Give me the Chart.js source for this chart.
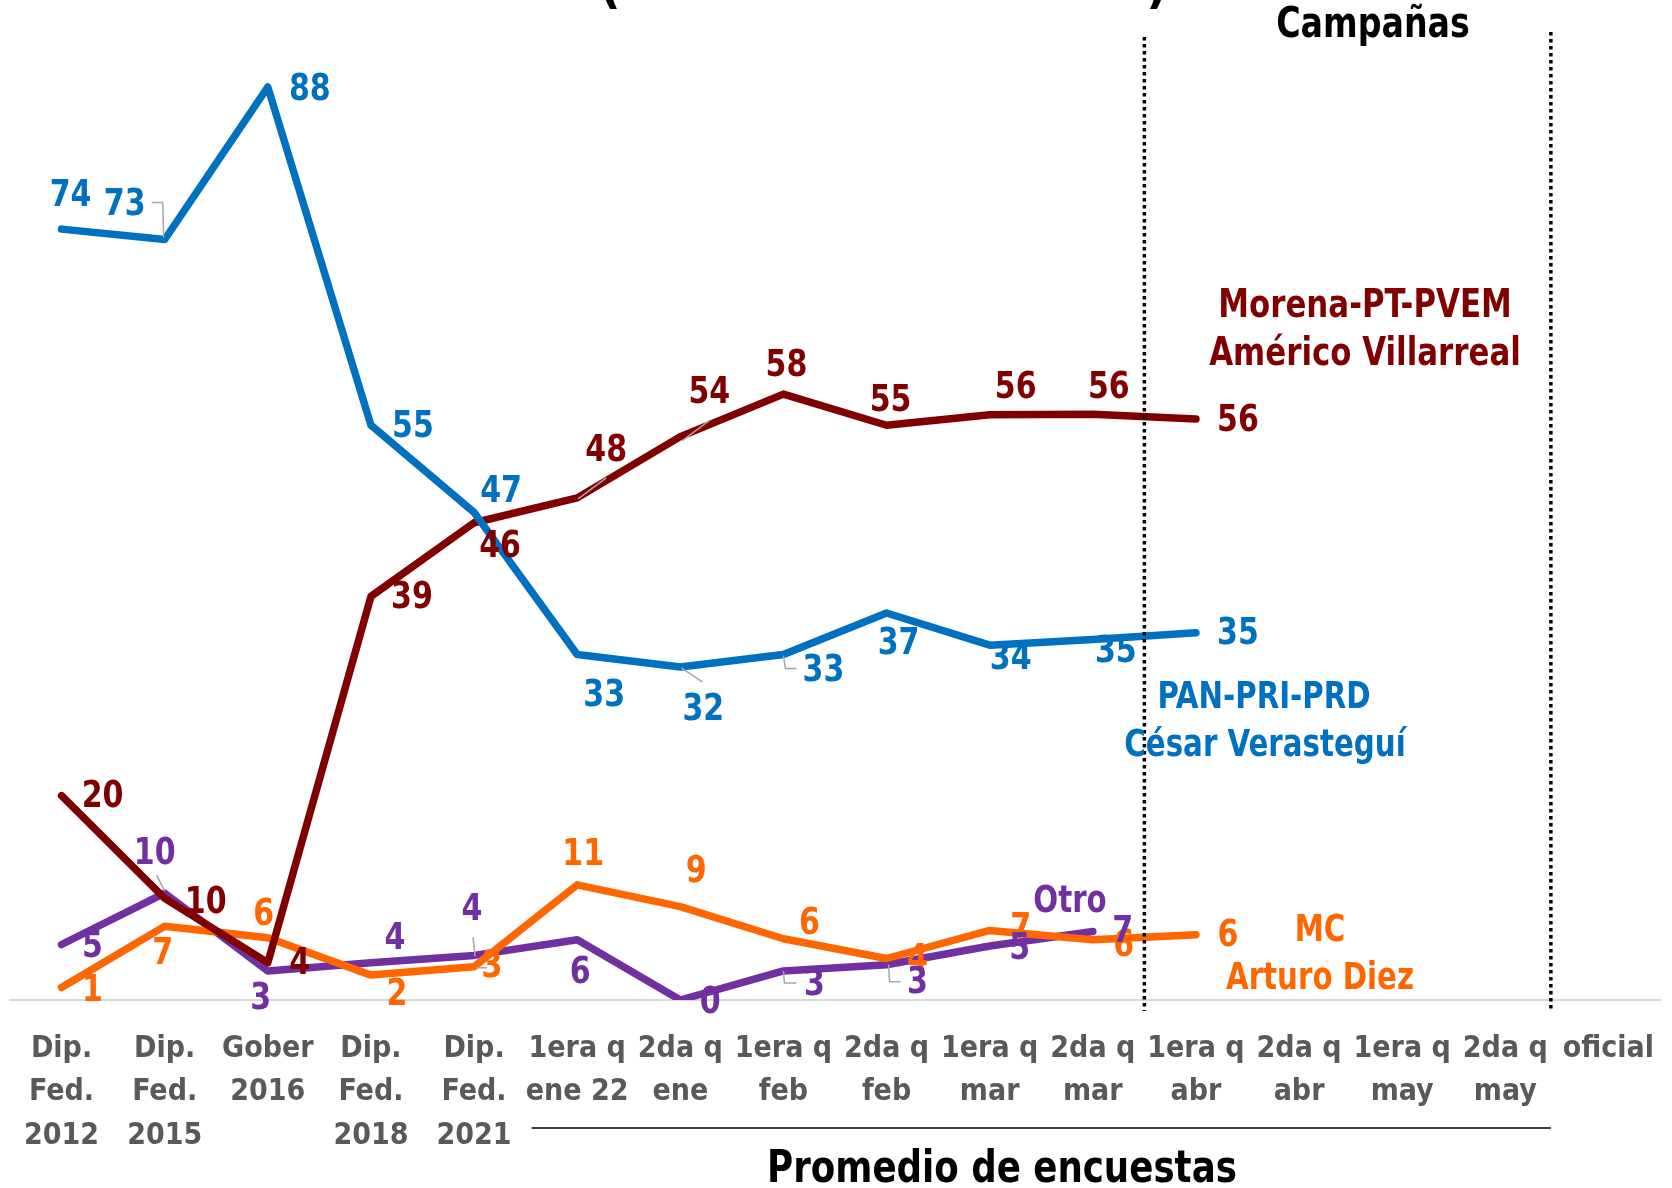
<!DOCTYPE html>
<html>
<head>
<meta charset="utf-8">
<script src="https://cdn.jsdelivr.net/npm/chart.js@4.4.1/dist/chart.umd.min.js"></script>
<style>
  html, body { margin: 0; padding: 0; background: #fff; }
  #wrap { width: 1672px; height: 1188px; position: relative; }
</style>
</head>
<body>
<div id="wrap"><canvas id="grafico"></canvas></div>
<script>
// Datos
const categorias = [
  ["Dip.", "Fed.", "2012"], ["Dip.", "Fed.", "2015"], ["Gober", "2016"], ["Dip.", "Fed.", "2018"],
  ["Dip.", "Fed.", "2021"], ["1era q", "ene 22"], ["2da q", "ene"], ["1era q", "feb"],
  ["2da q", "feb"], ["1era q", "mar"], ["2da q", "mar"], ["1era q", "abr"],
  ["2da q", "abr"], ["1era q", "may"], ["2da q", "may"], ["oficial"]
];
const panPriPrd = [74.3, 73.3, 88, 55.4, 47, 33.3, 32.1, 33.3, 37.3, 34.2, 34.75, 35.4, null, null, null, null];
const morena    = [19.7, 9.8, 3.6, 38.9, 46, 48.4, 54.3, 58.4, 55.4, 56.4, 56.45, 56.0, null, null, null, null];
const mc        = [1.2, 7.1, 6.0, 2.4, 3.2, 11.1, 9.0, 5.9, 4.0, 6.7, 5.8, 6.3, null, null, null, null];
const otro      = [5.35, 10.3, 2.8, 3.6, 4.3, 5.8, 0, 2.8, 3.4, 5.2, 6.6, null, null, null, null, null];

// Estilos
const FONTE = "'Liberation Sans Narrow', 'DejaVu Sans Condensed', 'Open Sans', sans-serif";
const AZUL = "#0070C0", VINHO = "#800000", LARANJA = "#FF6600", ROXO = "#7030A0";
const APERTO = 0.88; // compressão horizontal do texto (imitar Calibri)

// deslocamento das etiquetas (px) em relação ao ponto
const offAzul   = [[9,-33],[-40,-34],[42,3],[42,2],[27,-20],[27,42],[23,43],[40,17],[12,31],[21,14],[23,13],[42,1]];
const offVinho  = [[41,2],[41,5],[32,1],[41,2],[26,24],[29,-47],[29,-44],[3,-28],[4,-24],[26,-27],[16,-26],[42,2]];
const offLaranja= [[31,4],[-2,28],[-4,-23],[26,20],[18,0],[6,-30],[16,-35],[26,-15],[31,2],[31,-1],[31,6],[32,1]];
const offRoxo   = [[31,3],[-10,-39],[-7,28],[24,-24],[-2,-45],[3,33],[30,3],[31,14],[31,18],[30,3],[30,1]];

// linhas guia cinzas: [serie, ponto, [[dx,dy], ...]]
const guias = [
  [0, 1, [[-13,-37],[-2,-37],[-1,-2]]],
  [0, 6, [[1,1],[22,15]]],
  [0, 7, [[0,1],[2,14],[13,14]]],
  [1, 5, [[1,1],[29,-20]]],
  [1, 6, [[2,4],[29,-16]]],
  [2, 4, [[2,1],[13,1]]],
  [3, 1, [[-8,-18],[0,-2]]],
  [3, 4, [[-1,-18],[1,1]]],
  [3, 7, [[0,0],[1,12],[13,12]]],
  [3, 8, [[2,0],[3,17],[14,17]]]
];

Chart.defaults.font.family = FONTE;

function serie(label, data, cor, offs) {
  return {
    label, data,
    borderColor: cor, backgroundColor: cor,
    borderWidth: 7.5, pointRadius: 0, tension: 0,
    borderCapStyle: "round", borderJoinStyle: "round",
    spanGaps: false, offs
  };
}

function texto(ctx, t, x, y) {
  ctx.save();
  ctx.translate(x, y);
  ctx.scale(APERTO, 1);
  ctx.fillText(t, 0, 0);
  ctx.restore();
}

const extras = {
  id: "extras",
  afterDatasetsDraw(chart) {
    const { ctx, scales: { x, y } } = chart;
    ctx.save();

    // linhas pontilhadas (campanhas)
    ctx.strokeStyle = "#000";
    ctx.lineWidth = 3.5;
    ctx.setLineDash([3.5, 3.5]);
    const xa = (x.getPixelForValue(10) + x.getPixelForValue(11)) / 2;
    const xb = (x.getPixelForValue(14) + x.getPixelForValue(15)) / 2 - 6;
    ctx.beginPath(); ctx.moveTo(xa, 37); ctx.lineTo(xa, 1011); ctx.stroke();
    ctx.beginPath(); ctx.moveTo(xb, 32); ctx.lineTo(xb, 1011); ctx.stroke();
    ctx.setLineDash([]);

    // linhas guia
    ctx.strokeStyle = "#A6A6A6";
    ctx.lineWidth = 1.5;
    guias.forEach(([s, j, pts]) => {
      const p = chart.getDatasetMeta(s).data[j];
      ctx.beginPath();
      pts.forEach(([dx, dy], k) => {
        if (k === 0) ctx.moveTo(p.x + dx, p.y + dy); else ctx.lineTo(p.x + dx, p.y + dy);
      });
      ctx.stroke();
    });

    // etiquetas de dados
    ctx.font = "bold 38px " + FONTE;
    ctx.textAlign = "center";
    ctx.textBaseline = "middle";
    chart.data.datasets.forEach((ds, i) => {
      const meta = chart.getDatasetMeta(i);
      ctx.fillStyle = ds.borderColor;
      ds.data.forEach((v, j) => {
        if (v === null) return;
        const p = meta.data[j];
        const o = ds.offs[j] || [0, -30];
        texto(ctx, String(Math.round(v)), p.x + o[0], p.y + o[1]);
      });
    });

    // nomes das séries
    ctx.font = "bold 39px " + FONTE;
    ctx.fillStyle = VINHO;
    texto(ctx, "Morena-PT-PVEM", 1365, 307);
    texto(ctx, "Américo Villarreal", 1365, 355);
    ctx.font = "bold 37px " + FONTE;
    ctx.fillStyle = AZUL;
    texto(ctx, "PAN-PRI-PRD", 1264, 698);
    texto(ctx, "César Verasteguí", 1265, 746);
    ctx.fillStyle = LARANJA;
    texto(ctx, "MC", 1320, 931);
    texto(ctx, "Arturo Diez", 1320, 979);
    ctx.fillStyle = ROXO;
    texto(ctx, "Otro", 1070, 902);

    // títulos
    ctx.fillStyle = "#000";
    ctx.font = "bold 42px " + FONTE;
    texto(ctx, "Campañas", 1373, 26);
    ctx.font = "bold 45px " + FONTE;
    texto(ctx, "Promedio de encuestas", 1002, 1170);
    ctx.font = "bold 52px " + FONTE;
    ctx.textBaseline = "alphabetic";
    ctx.fillText("(", 610, 2);
    ctx.fillText(")", 1157, 2);

    // linha sob o eixo
    const xc = (x.getPixelForValue(4) + x.getPixelForValue(5)) / 2 + 6;
    ctx.strokeStyle = "#404040";
    ctx.lineWidth = 2;
    ctx.beginPath(); ctx.moveTo(xc, 1128); ctx.lineTo(xb, 1128); ctx.stroke();

    ctx.restore();
  }
};

new Chart(document.getElementById("grafico"), {
  type: "line",
  data: {
    labels: categorias,
    datasets: [
      serie("PAN-PRI-PRD", panPriPrd, AZUL, offAzul),
      serie("Morena-PT-PVEM", morena, VINHO, offVinho),
      serie("MC", mc, LARANJA, offLaranja),
      serie("Otro", otro, ROXO, offRoxo)
    ]
  },
  options: {
    responsive: true,
    maintainAspectRatio: false,
    animation: false,
    layout: { padding: { left: 10, right: 12, top: 4, bottom: 0 } },
    plugins: { legend: { display: false }, tooltip: { enabled: false } },
    scales: {
      x: {
        offset: true,
        grid: { display: false, drawTicks: false },
        border: { color: "#D9D9D9", width: 2 },
        ticks: {
          autoSkip: false, maxRotation: 0, minRotation: 0,
          padding: 27,
          color: "#595959",
          font: { size: 30, weight: "bold", lineHeight: 1.45 }
        },
        afterFit(scale) {
          scale.height = 188;
          scale.paddingLeft = 0;
          scale.paddingRight = 0;
        }
      },
      y: {
        display: false,
        min: 0, max: 96
      }
    }
  },
  plugins: [extras]
});
</script>
</body>
</html>
